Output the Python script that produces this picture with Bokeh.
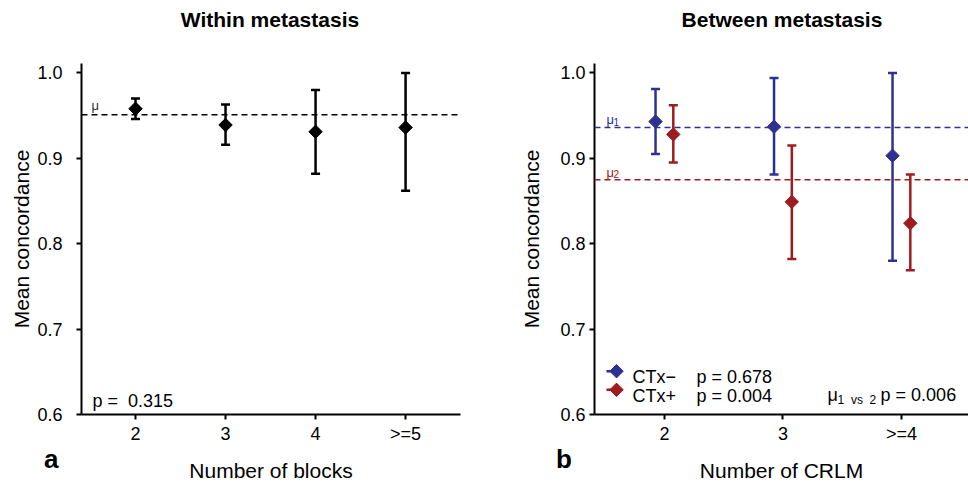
import numpy as np
from bokeh.plotting import figure
from bokeh.layouts import row
from bokeh.models import Span, Label, FixedTicker, Range1d, Div
from bokeh.embed import file_html
from bokeh.resources import INLINE

FONT = "Liberation Sans"
BLUE = "#2e3192"
RED = "#9e1c20"

# ---- Panel a: within metastasis ----
blocks = ["2", "3", "4", ">=5"]
within_mean = [0.958, 0.939, 0.931, 0.936]
within_lo = [0.946, 0.916, 0.882, 0.862]
within_hi = [0.970, 0.963, 0.980, 1.000]
within_mu = 0.951
within_p = "p =\u00a0 0.315"

# ---- Panel b: between metastasis ----
crlm = ["2", "3", ">=4"]
groups = ["CTx−", "CTx+"]
neg_mean = [0.943, 0.937, 0.903]
neg_lo = [0.905, 0.881, 0.780]
neg_hi = [0.981, 0.994, 1.000]
pos_mean = [0.928, 0.849, 0.824]
pos_lo = [0.895, 0.782, 0.769]
pos_hi = [0.962, 0.915, 0.881]
mu1 = 0.936
mu2 = 0.875
group_p = ["p = 0.678", "p = 0.004"]
p_mu = "p = 0.006"

yticks = [0.6, 0.7, 0.8, 0.9, 1.0]


def style_axes(p, xticks, xlabels, xlabel, ylab_standoff, lab_standoff):
    for ax in (p.xaxis[0], p.yaxis[0]):
        ax.axis_line_width = 2
        ax.axis_line_color = "black"
        ax.major_tick_line_width = 2
        ax.major_tick_line_color = "black"
        ax.major_tick_out = 5
        ax.major_tick_in = 0
        ax.minor_tick_out = 0
        ax.minor_tick_in = 0
        ax.major_label_text_font = FONT
        ax.major_label_text_font_size = "18px"
        ax.major_label_text_color = "black"
        ax.axis_label_text_font = FONT
        ax.axis_label_text_font_size = "21px"
        ax.axis_label_text_font_style = "normal"
        ax.axis_label_text_color = "black"
    p.xaxis.ticker = FixedTicker(ticks=xticks)
    p.xaxis.major_label_overrides = {t: l for t, l in zip(xticks, xlabels)}
    p.xaxis.axis_label = xlabel
    p.xaxis.major_label_standoff = 4
    p.xaxis.axis_label_standoff = 12
    p.yaxis.ticker = FixedTicker(ticks=yticks)
    p.yaxis.major_label_overrides = {t: f"{t:.1f}" for t in yticks}
    p.yaxis.axis_label = "Mean concordance"
    p.yaxis.major_label_standoff = lab_standoff
    p.yaxis.axis_label_standoff = ylab_standoff
    p.xgrid.visible = False
    p.ygrid.visible = False
    p.outline_line_color = None


def errorbars(p, xs, mean, lo, hi, color, lw=2.5):
    p.segment(x0=xs, y0=lo, x1=xs, y1=hi, line_width=lw, line_color=color)
    p.scatter(x=list(xs) + list(xs), y=list(lo) + list(hi), marker="dash",
              size=9, line_width=lw, line_color=color)
    p.scatter(x=xs, y=mean, marker="square", angle=np.pi / 4, size=9.5,
              fill_color=color, line_color=color)


def txt(p, x, y, s, size, color="black", style="normal", align="left",
        baseline="alphabetic"):
    p.add_layout(Label(x=x, y=y, text=s, text_font=FONT, text_font_size=size,
                       text_color=color, text_font_style=style, text_align=align,
                       text_baseline=baseline))


def overlay_text(s, left, top, size, width, align="left"):
    return Div(text=s, width=width,
               styles={"position": "absolute", "left": f"{left}px", "top": f"{top}px",
                       "font-family": FONT, "font-size": size, "font-weight": "bold",
                       "line-height": "30px", "color": "black", "margin": "0",
                       "padding": "0", "text-align": align, "white-space": "nowrap"})


# ---------- Figure a ----------
xa = [i + 1 for i in range(len(blocks))]
p1 = figure(width=484, height=484, x_range=Range1d(0.4, 4.61), y_range=Range1d(0.6, 1.011),
            output_backend="svg", toolbar_location=None,
            min_border_left=81, min_border_right=24, min_border_top=63, min_border_bottom=64)
p1.add_layout(Span(location=within_mu, dimension="width", line_dash="6 4",
                   line_width=1.5, line_color="black"))
errorbars(p1, xa, within_mean, within_lo, within_hi, "black")
style_axes(p1, xa, blocks, "Number of blocks", 1, 14)
txt(p1, 0.511, 0.962, "μ", "13px", color="#333333")
txt(p1, 0.522, 0.6153, within_p, "18px")

# ---------- Figure b ----------
xb = np.arange(1, len(crlm) + 1)
dodge = 0.075
p2 = figure(width=484, height=484, x_range=Range1d(0.41, 3.566), y_range=Range1d(0.6, 1.011),
            output_backend="svg", toolbar_location=None,
            min_border_left=110, min_border_right=0, min_border_top=63, min_border_bottom=64)
p2.add_layout(Span(location=mu1, dimension="width", line_dash="6 4",
                   line_width=1.5, line_color=BLUE))
p2.add_layout(Span(location=mu2, dimension="width", line_dash="6 4",
                   line_width=1.5, line_color=RED))
errorbars(p2, list(xb - dodge), neg_mean, neg_lo, neg_hi, BLUE)
errorbars(p2, list(xb + dodge), pos_mean, pos_lo, pos_hi, RED)
style_axes(p2, list(xb), crlm, "Number of CRLM", 14, 4)

# legend keys (diamond with a short line on its left), one row per group
key_x = 0.596
key_x0 = 0.511
key_y = [0.6507, 0.6289]
for color, ky, lab, pv in zip([BLUE, RED], key_y, groups, group_p):
    p2.segment(x0=[key_x0], y0=[ky], x1=[key_x], y1=[ky],
               line_width=2.5, line_color=color)
    p2.scatter(x=[key_x], y=[ky], marker="square", angle=np.pi / 4, size=9.5,
               fill_color=color, line_color=color)
    txt(p2, 0.731, ky - 0.0070, lab, "18px")
    txt(p2, 1.271, ky - 0.0070, pv, "18px")

txt(p2, 2.376, 0.6225, "μ", "18px")
txt(p2, 2.461, 0.6164, "1\u00a0 vs\u00a0 2", "12px")
txt(p2, 2.824, 0.6230, p_mu, "18px")
txt(p2, 0.511, 0.946, "μ", "13px", color=BLUE)
txt(p2, 0.570, 0.9425, "1", "10px", color=BLUE)
txt(p2, 0.511, 0.8839, "μ", "13px", color=RED)
txt(p2, 0.570, 0.8816, "2", "10px", color=RED)

layout = row(p1, p2,
             overlay_text("Within metastasis", 120, 5, "21px", 300, "center"),
             overlay_text("Between metastasis", 632, 5, "21px", 300, "center"),
             overlay_text("a", 44, 444, "26px", 30),
             overlay_text("b", 556, 444, "26px", 30))

with open("out.html", "w") as f:
    f.write(file_html(layout, INLINE))
